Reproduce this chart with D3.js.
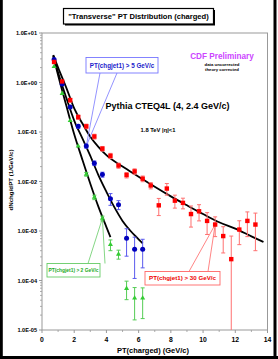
<!DOCTYPE html>
<html>
<head>
<meta charset="utf-8">
<script src="https://cdn.jsdelivr.net/npm/d3@7"></script>
<style>
  body { margin: 0; background: #fff; }
  svg { display: block; font-family: Arial, "Liberation Sans", sans-serif; font-weight: bold; }
</style>
</head>
<body>
<svg id="chart" width="278" height="359"></svg>
<script>
// -- data -- //
const redPt = [0.75,1.25,1.75,2.25,2.75,3.25,3.75,4.25,4.75,5.25,5.75,6.25,6.75,7.25,7.75,8.25,8.75,9.25,9.75,10.25,10.75,11.25,11.75,12.25,12.75,13.25];
const redVals = [2.6,1.05,0.44,0.2,0.13,0.081,0.046,0.033,0.021,0.0135,0.016,0.0114,0.0083,0.0033,0.0072,0.0041,0.0037,0.0022,0.0025,0.0016,0.00135,0.00079,0.00027,0.00107,0.0016,0.00135];
const redErr = [0,0,0.04,0.02,0.014,0.009,0.005,0.004,0.0025,0.0017,0.002,0.0015,0.0012,0.00125,0.0019,0.0012,0.0009,0.001,0.0009,0.00075,0.00058,0.00043,0.00052,0.00054,0.00083,0.00095];

const bluePt = [0.75,1.25,1.75,2.25,2.75,3.25,3.75,4.25,4.75,5.25,5.75,6.25];
const blueVals = [2.9,0.93,0.32,0.13,0.052,0.0235,0.0138,0.0045,0.0034,0.00071,0.00043,0.00043];
const blueErr = [0,0,0,0.012,0.005,0.0025,0.0016,0.0012,0.0007,0.0004,0.00032,0.00025];

const greenPt = [0.75,1.25,1.75,2.25,2.75,3.25,3.75,4.25,4.75,5.25,5.75,6.25];
const greenVals = [2.1,0.6,0.17,0.052,0.014,0.0048,0.0018,0.00053,0.00034,0.000069,0.000044,0.000044];
const greenErr = [0,0,0,0,0.0012,0.0005,0.0002,0.00013,0.00007,0.000028,0.000028,0.000027];

// Pythia curves
const curveRed = [[0.7,3.6],[1,2.0],[1.5,0.8],[2,0.3],[2.5,0.15],[3,0.08],[3.5,0.05],[4,0.034],[5,0.02],[6,0.0125],[7,0.0078],[8,0.005],[9,0.0033],[10,0.0022],[11,0.0015],[12,0.00112],[13,0.00078],[13.75,0.0006]];
const curveBlue = [[0.7,3.5],[1,1.6],[1.5,0.5],[2,0.17],[2.5,0.075],[3,0.033],[3.5,0.0135],[4,0.0062],[4.5,0.003],[5,0.0016],[5.5,0.001],[6,0.00068],[6.25,0.00056]];
const curveGreen = [[0.7,3.4],[1,1.4],[1.5,0.35],[2,0.09],[2.5,0.028],[3,0.009],[3.5,0.0031],[4,0.0012],[4.25,0.00075]];

const xTicks = [0,2,4,6,8,10,12,14];
const yTicks = [1e1,1e0,1e-1,1e-2,1e-3,1e-4,1e-5];
const yTickLabels = ['1.0E+01','1.0E+00','1.0E-01','1.0E-02','1.0E-03','1.0E-04','1.0E-05'];

const svg = d3.select('#chart');

// -- outer frame -- //
svg.append('line').attr('x1',1.4).attr('y1',0).attr('x2',1.4).attr('y2',359).attr('stroke','#000').attr('stroke-width',2.8);
svg.append('line').attr('x1',275).attr('y1',0).attr('x2',275).attr('y2',359).attr('stroke','#000').attr('stroke-width',3);
svg.append('line').attr('x1',0).attr('y1',357.5).attr('x2',278).attr('y2',357.5).attr('stroke','#000').attr('stroke-width',3);

// -- scales -- //
const xScale = d3.scaleLinear().domain([0,14]).range([42,267.5]);
const yScale = d3.scaleLog().domain([1e-5,10]).range([330,33]);

// plot frame
svg.append('rect')
  .attr('x',42).attr('y',33).attr('width',225.5).attr('height',297)
  .attr('fill','none').attr('stroke','#999').attr('stroke-width',1);

// y axis ticks
const minor = [];
yTicks.slice(1).forEach(t => { for (let k = 2; k <= 9; k++) minor.push(t*k); });
svg.selectAll('.ymin').data(minor).enter().append('line')
  .attr('x1',40).attr('x2',42)
  .attr('y1',d => yScale(d)).attr('y2',d => yScale(d))
  .attr('stroke','#999').attr('stroke-width',0.8);
svg.selectAll('.ymaj').data(yTicks).enter().append('line')
  .attr('x1',39).attr('x2',42)
  .attr('y1',d => yScale(d)).attr('y2',d => yScale(d))
  .attr('stroke','#999').attr('stroke-width',1);
svg.selectAll('.ylab').data(yTicks).enter().append('text')
  .attr('x',37).attr('y',d => yScale(d)+2)
  .attr('text-anchor','end').attr('font-size',5.6)
  .text((d,i) => yTickLabels[i]);

// x axis ticks
svg.selectAll('.xmin').data(d3.range(1,14,2)).enter().append('line')
  .attr('x1',d => xScale(d)).attr('x2',d => xScale(d))
  .attr('y1',330).attr('y2',332)
  .attr('stroke','#999').attr('stroke-width',0.8);
svg.selectAll('.xmaj').data(xTicks).enter().append('line')
  .attr('x1',d => xScale(d)).attr('x2',d => xScale(d))
  .attr('y1',330).attr('y2',333)
  .attr('stroke','#999').attr('stroke-width',1);
svg.selectAll('.xlab').data(xTicks).enter().append('text')
  .attr('x',d => xScale(d)).attr('y',342)
  .attr('text-anchor','middle').attr('font-size',6.8)
  .text(d => d);

// axis titles
svg.append('text').attr('x',153).attr('y',353)
  .attr('text-anchor','middle').attr('font-size',7.5)
  .text('PT(charged)  (GeV/c)');
svg.append('text').attr('transform','translate(13,180) rotate(-90)')
  .attr('text-anchor','middle').attr('font-size',6.2)
  .text('dNchg/dPT (1/GeV/c)');

// -- title box -- //
svg.append('rect').attr('x',65).attr('y',10).attr('width',150).attr('height',15.5).attr('fill','#000');
svg.append('rect').attr('x',63.5).attr('y',8.5).attr('width',150).attr('height',15.5)
  .attr('fill','#fff').attr('stroke','#000').attr('stroke-width',1.2);
svg.append('text').attr('x',138.5).attr('y',19.2)
  .attr('text-anchor','middle').attr('font-size',7.6)
  .text('"Transverse" PT Distribution (charged)');

// -- annotations -- //
svg.append('text').attr('x',222).attr('y',59).attr('text-anchor','middle')
  .attr('font-size',8.2).attr('fill','#cc44ff').text('CDF Preliminary');
svg.append('text').attr('x',222).attr('y',65.5).attr('text-anchor','middle')
  .attr('font-size',4.3).text('data uncorrected');
svg.append('text').attr('x',222).attr('y',71).attr('text-anchor','middle')
  .attr('font-size',4.3).text('theory corrected');
svg.append('text').attr('x',167.5).attr('y',108.5).attr('text-anchor','middle')
  .attr('font-size',9).text('Pythia CTEQ4L (4, 2.4 GeV/c)');
svg.append('text').attr('x',158).attr('y',131.5).attr('text-anchor','middle')
  .attr('font-size',5.8).text('1.8 TeV |η|<1');

// -- curves -- //
const line = d3.line().x(d => xScale(d[0])).y(d => yScale(d[1])).curve(d3.curveMonotoneX);
[curveGreen, curveBlue, curveRed].forEach(c => {
  svg.append('path').datum(c).attr('d', line)
    .attr('fill','none').attr('stroke','#000').attr('stroke-width',1.8);
});

// -- callouts -- //
function callout(bx, by, bw, bh, l1, l2, target, stroke, fill, label, fs) {
  const ly = by + (target[1] < by ? 0 : bh);
  svg.append('line').attr('x1',l1).attr('y1',ly)
    .attr('x2',target[0]).attr('y2',target[1]).attr('stroke',stroke).attr('stroke-width',0.8);
  svg.append('line').attr('x1',l2).attr('y1',ly)
    .attr('x2',target[0]).attr('y2',target[1]).attr('stroke',stroke).attr('stroke-width',0.8);
  svg.append('rect').attr('x',bx).attr('y',by).attr('width',bw).attr('height',bh)
    .attr('fill','#fff').attr('stroke',stroke).attr('stroke-width',0.9);
  svg.append('text').attr('x',bx + bw/2).attr('y',by + bh/2 + fs*0.36)
    .attr('text-anchor','middle').attr('font-size',fs).attr('fill',fill).text(label);
}
callout(86, 57.5, 72, 15.5, 100, 117, [xScale(bluePt[4]), yScale(blueVals[4])], '#7777ff', '#2222cc', 'PT(chgjet1) > 5 GeV/c', 6.3);
callout(47, 263.5, 53, 13.5, 88, 105, [xScale(greenPt[6]), yScale(greenVals[6])], '#66cc66', '#22aa22', 'PT(chgjet1) > 2 GeV/c', 4.9);
callout(145, 271.5, 75, 13.5, 189, 208, [xScale(redPt[20]), yScale(redVals[20])], '#ff6666', '#ee0000', 'PT(chgjet1) > 30 GeV/c', 6.2);

// -- error bars and markers -- //
function errorBars(pts, vals, errs, color) {
  const rows = pts.map((p,i) => ({p: p, v: vals[i], e: errs[i]})).filter(d => d.e > 0);
  const g = svg.append('g').attr('stroke',color).attr('stroke-width',1);
  rows.forEach(d => {
    const cx = xScale(d.p);
    const y1 = yScale(d.v + d.e);
    const y2 = d.v - d.e > 1e-5 ? yScale(d.v - d.e) : 330;
    g.append('line').attr('x1',cx).attr('x2',cx).attr('y1',y1).attr('y2',y2);
    g.append('line').attr('x1',cx-2).attr('x2',cx+2).attr('y1',y1).attr('y2',y1);
    if (y2 < 330) g.append('line').attr('x1',cx-2).attr('x2',cx+2).attr('y1',y2).attr('y2',y2);
  });
}
errorBars(redPt, redVals, redErr, '#ff7070');
errorBars(bluePt, blueVals, blueErr, '#5a5aee');
errorBars(greenPt, greenVals, greenErr, '#55cc55');

svg.selectAll('.green').data(greenPt).enter().append('path')
  .attr('d', d3.symbol().type(d3.symbolTriangle).size(11))
  .attr('transform',(d,i) => `translate(${xScale(d)},${yScale(greenVals[i])})`)
  .attr('fill','#33cc33');
svg.selectAll('.blue').data(bluePt).enter().append('circle')
  .attr('cx',d => xScale(d)).attr('cy',(d,i) => yScale(blueVals[i]))
  .attr('r',2.5).attr('fill','#0000bb');
svg.selectAll('.red').data(redPt).enter().append('rect')
  .attr('x',d => xScale(d)-2.2).attr('y',(d,i) => yScale(redVals[i])-2.2)
  .attr('width',4.4).attr('height',4.4).attr('fill','#ff0000');
</script>
</body>
</html>
